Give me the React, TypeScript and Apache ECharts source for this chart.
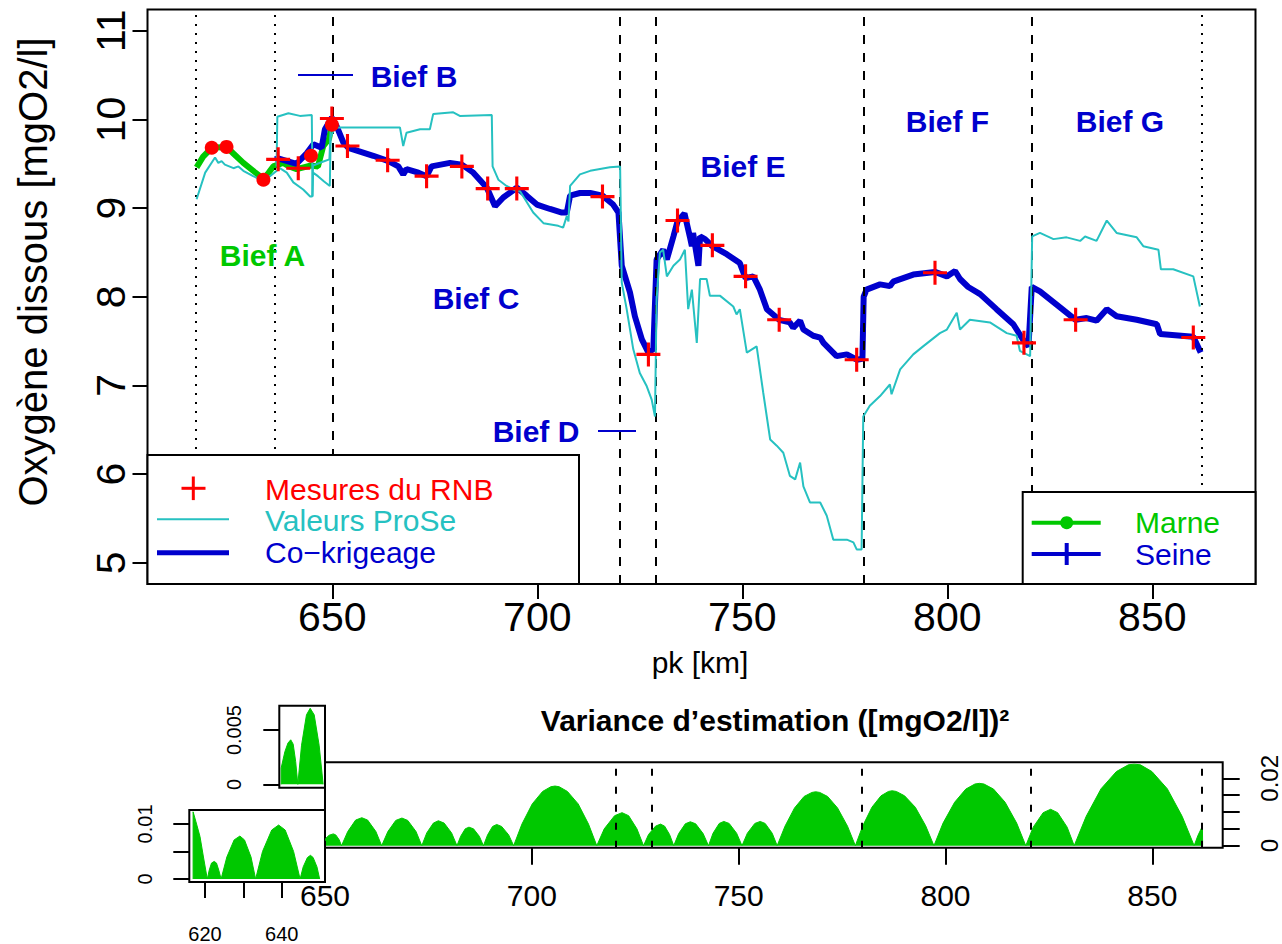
import React, { useEffect, useRef } from "react";
import * as echarts from "echarts";

// ---------- data ----------
// Reach boundaries (pk, km)
const dottedLimits = [616.8, 636.0, 862.0];
const dashedLimits = [650.0, 720.2, 729.0, 779.7, 820.7];
const varianceLimits = [650.0, 720.2, 729.0, 779.7, 820.7, 862.0];

const xTicks = [650, 700, 750, 800, 850];
const yTicks = [5, 6, 7, 8, 9, 10, 11];
const varTicks = [0, 0.005, 0.01, 0.015, 0.02];
const varLabels = [0, 0.02];

// RNB measurements on the Seine and the Marne [pk, mgO2/l]
const seineMesures: [number, number][] = [
  [636.8, 9.55], [641.7, 9.45], [649.9, 10.01], [653.7, 9.7], [663.5, 9.54], [673.0, 9.36],
  [681.6, 9.47], [687.9, 9.22], [695.0, 9.22], [715.9, 9.13], [727.1, 7.35], [734.2, 8.86],
  [742.7, 8.58], [750.8, 8.23], [759.0, 7.74], [777.9, 7.29], [797.0, 8.27], [818.7, 7.48],
  [831.3, 7.74], [860.0, 7.54],
];
const marneMesures: [number, number][] = [
  [620.6, 9.68], [624.2, 9.69], [633.2, 9.32], [644.8, 9.59], [649.9, 9.94],
];

// Co-kriging estimate, Seine
const seineKrigeage: [number, number][] = [
  [636.0, 9.55], [636.8, 9.56], [639.0, 9.53], [641.3, 9.5], [643.8, 9.62], [645.4, 9.72],
  [647.4, 9.68], [648.2, 9.89], [649.9, 10.02], [651.1, 9.92], [652.7, 9.74], [653.9, 9.68],
  [660.0, 9.59], [663.7, 9.53], [666.1, 9.47], [667.3, 9.38], [668.1, 9.44], [671.0, 9.4],
  [673.0, 9.36], [674.2, 9.47], [678.7, 9.51], [681.6, 9.49], [684.4, 9.4], [687.7, 9.23],
  [689.7, 9.02], [691.7, 9.12], [695.0, 9.23], [697.4, 9.14], [699.9, 9.04], [703.1, 8.99],
  [706.0, 8.95], [707.2, 8.95], [708.0, 9.14], [710.4, 9.17], [712.9, 9.17], [715.9, 9.14],
  [718.5, 9.04], [719.8, 8.95], [720.6, 8.35], [722.6, 8.05], [723.8, 7.78], [725.5, 7.52],
  [727.1, 7.37], [728.3, 7.41], [729.1, 8.42], [730.7, 8.53], [731.6, 8.42], [733.2, 8.68],
  [734.2, 8.85], [735.9, 8.94], [737.2, 8.68], [737.7, 8.57], [738.0, 8.72], [739.3, 8.35],
  [739.7, 8.68], [740.9, 8.65], [742.7, 8.57], [746.2, 8.48], [749.4, 8.38], [750.8, 8.21],
  [752.7, 8.23], [754.3, 8.08], [756.0, 7.86], [759.0, 7.74], [761.6, 7.71], [762.4, 7.65],
  [764.1, 7.73], [764.9, 7.63], [767.3, 7.56], [769.0, 7.54], [769.8, 7.48], [773.0, 7.33],
  [775.5, 7.35], [777.9, 7.29], [779.3, 7.3], [779.6, 8.0], [780.3, 8.08], [783.6, 8.14],
  [786.0, 8.12], [786.8, 8.17], [791.7, 8.25], [797.0, 8.28], [799.9, 8.23], [801.9, 8.29],
  [803.1, 8.2], [805.1, 8.11], [808.0, 8.03], [812.0, 7.86], [816.1, 7.69], [818.7, 7.5],
  [819.8, 7.44], [820.6, 8.11], [822.6, 8.06], [827.5, 7.88], [831.3, 7.74], [834.0, 7.76],
  [836.4, 7.73], [838.9, 7.86], [841.3, 7.78], [846.2, 7.74], [851.1, 7.69], [851.9, 7.58],
  [860.0, 7.55], [861.8, 7.37],
];

// Co-kriging estimate, Marne
const marneKrigeage: [number, number][] = [
  [616.9, 9.46], [618.5, 9.58], [620.6, 9.68], [624.2, 9.69], [626.0, 9.61], [628.3, 9.51],
  [631.0, 9.41], [633.2, 9.33], [634.5, 9.4], [635.6, 9.47], [638.0, 9.51], [639.5, 9.47],
  [641.3, 9.44], [643.0, 9.46], [644.8, 9.48], [646.5, 9.47], [647.8, 9.7], [649.2, 9.78],
  [649.9, 9.94],
];

// ProSe model output, Seine
const seineProse: [number, number][] = [
  [636.4, 9.47], [636.6, 10.03], [639.3, 10.07], [642.1, 10.04], [645.0, 10.05], [645.2, 9.13],
  [645.3, 9.4], [646.5, 9.36], [648.0, 9.3], [649.4, 9.25], [649.6, 9.8], [650.7, 9.91],
  [666.5, 9.91], [667.3, 9.7], [668.1, 9.85], [671.4, 9.89], [673.8, 9.89], [674.6, 10.06],
  [679.5, 10.08], [681.1, 10.04], [688.9, 10.05], [689.1, 9.47], [690.5, 9.32], [692.5, 9.25],
  [695.0, 9.19], [695.8, 9.19], [699.0, 8.95], [701.5, 8.83], [705.1, 8.8], [706.3, 8.78],
  [707.2, 8.91], [707.6, 8.85], [708.0, 9.25], [710.4, 9.38], [712.9, 9.42], [717.7, 9.46],
  [720.2, 9.47], [720.6, 8.16], [721.8, 7.86], [723.4, 7.41], [725.0, 7.14], [726.7, 6.99],
  [727.9, 6.84], [728.7, 6.65], [729.1, 7.97], [729.9, 8.5], [730.7, 8.53], [731.6, 8.23],
  [733.2, 8.35], [734.8, 8.42], [736.0, 8.53], [736.8, 7.86], [737.7, 8.08], [738.9, 7.48],
  [739.7, 8.2], [741.3, 8.2], [742.1, 8.01], [744.6, 8.01], [747.8, 7.89], [748.6, 7.8],
  [749.4, 7.86], [751.1, 7.37], [753.5, 7.44], [755.1, 6.92], [756.8, 6.39], [758.4, 6.32],
  [760.0, 6.24], [761.6, 5.98], [762.9, 5.94], [764.1, 6.13], [764.9, 5.86], [766.5, 5.68],
  [769.0, 5.68], [770.6, 5.53], [772.2, 5.26], [775.5, 5.26], [777.1, 5.23], [777.9, 5.15],
  [779.1, 5.15], [779.5, 6.65], [781.1, 6.77], [783.6, 6.88], [786.0, 7.01], [786.4, 6.9],
  [788.5, 7.18], [791.7, 7.35], [794.1, 7.44], [798.2, 7.59], [799.9, 7.63], [802.3, 7.82],
  [803.1, 7.63], [805.5, 7.74], [810.4, 7.71], [814.5, 7.59], [816.9, 7.56], [817.7, 7.39],
  [820.2, 7.33], [820.7, 8.68], [822.6, 8.72], [825.9, 8.65], [829.1, 8.67], [832.4, 8.63],
  [833.6, 8.68], [836.4, 8.63], [838.9, 8.86], [841.3, 8.72], [846.2, 8.67], [847.8, 8.57],
  [851.5, 8.53], [852.1, 8.31], [855.1, 8.31], [860.0, 8.23], [861.6, 7.89],
];

// ProSe model output, Marne
const marneProse: [number, number][] = [
  [616.9, 9.1], [619.0, 9.4], [621.4, 9.57], [622.2, 9.51], [623.0, 9.53], [623.8, 9.49],
  [625.9, 9.45], [627.1, 9.47], [628.3, 9.42], [630.7, 9.36], [633.2, 9.31], [634.8, 9.36],
  [637.2, 9.45], [638.9, 9.4], [640.5, 9.29], [642.9, 9.21], [644.6, 9.13], [645.1, 9.13],
  [645.3, 9.48], [647.5, 9.52], [649.3, 9.55], [649.6, 9.9], [650.0, 9.92],
];

// Estimation variance, Seine 650-862 ([mgO2/l]^2)
const seineVariance: [number, number][] = [
  [650.1, 0], [650.2, 0.0022], [651.0, 0.0031], [652.0, 0.0035], [652.6, 0.0032], [653.4, 0.0018], [654.0, 0],
  [655.5, 0.0042], [657.4, 0.0076], [658.9, 0.0083], [660.3, 0.0076], [662.3, 0.0042], [663.7, 0],
  [665.2, 0.0042], [667.1, 0.0075], [668.6, 0.0082], [670.0, 0.0075], [672.0, 0.0042], [673.4, 0],
  [674.6, 0.0038], [676.2, 0.0067], [677.4, 0.0074], [678.8, 0.0067], [680.6, 0.0038], [681.9, 0],
  [682.8, 0.0028], [683.9, 0.005], [684.8, 0.0055], [685.9, 0.005], [687.3, 0.0028], [688.3, 0],
  [689.3, 0.0032], [690.5, 0.0057], [691.5, 0.0063], [692.7, 0.0057], [694.4, 0.0032], [695.6, 0],
  [697.6, 0.0064], [700.1, 0.0124], [702.6, 0.0161], [704.6, 0.0175], [705.6, 0.0177], [706.6, 0.0175],
  [708.6, 0.0161], [711.2, 0.0124], [713.7, 0.0064], [715.7, 0],
  [717.5, 0.005], [720.0, 0.0089], [721.8, 0.0098], [723.4, 0.0089], [725.4, 0.005], [727.0, 0],
  [728.2, 0.0033], [729.9, 0.0058], [731.1, 0.0064], [732.1, 0.0058], [733.3, 0.0033], [734.3, 0],
  [735.5, 0.0036], [737.1, 0.0065], [738.3, 0.0071], [739.6, 0.0065], [741.4, 0.0036], [742.7, 0],
  [743.8, 0.0037], [745.3, 0.0066], [746.4, 0.0072], [747.7, 0.0066], [749.5, 0.0037], [750.8, 0],
  [752.1, 0.0037], [753.9, 0.0066], [755.2, 0.0072], [756.4, 0.0066], [758.1, 0.0037], [759.3, 0],
  [761.2, 0.0058], [763.5, 0.0112], [765.8, 0.0146], [767.7, 0.0158], [768.6, 0.016], [769.6, 0.0158],
  [771.5, 0.0146], [773.9, 0.0112], [776.3, 0.0058], [778.2, 0],
  [780.0, 0.0059], [782.2, 0.0114], [784.4, 0.0148], [786.2, 0.0161], [787.1, 0.0163], [788.1, 0.0161],
  [790.1, 0.0148], [792.7, 0.0114], [795.2, 0.0059], [797.2, 0],
  [799.4, 0.0067], [802.2, 0.0129], [804.9, 0.0168], [807.1, 0.0183], [808.2, 0.0185], [809.3, 0.0183],
  [811.6, 0.0168], [814.4, 0.0129], [817.2, 0.0067], [819.4, 0],
  [821.2, 0.0055], [823.6, 0.0098], [825.4, 0.0108], [827.1, 0.0098], [829.4, 0.0055], [831.1, 0],
  [834.0, 0.0087], [837.6, 0.0169], [841.3, 0.022], [844.2, 0.024], [845.6, 0.0242], [847.1, 0.024],
  [849.9, 0.022], [853.6, 0.0169], [857.2, 0.0087], [860.1, 0],
  [861.0, 0.003], [862.1, 0.0058], [862.15, 0],
];

// Estimation variance, Seine reach B (636-650)
const biefBVariance: [number, number][] = [
  [636.3, 0], [636.3, 0.0015], [637.5, 0.003], [638.5, 0.0038], [639.4, 0.0041], [640.2, 0.0037],
  [641.0, 0.0021], [641.7, 0], [642.9, 0.0036], [644.5, 0.0064], [645.7, 0.007], [647.0, 0.0064],
  [648.6, 0.0036], [649.9, 0],
];

// Estimation variance, Marne (617-650)
const marneVariance: [number, number][] = [
  [616.9, 0], [616.9, 0.0122], [617.6, 0.0105], [618.7, 0.0077], [619.6, 0.004], [620.6, 0],
  [621.1, 0.0016], [621.7, 0.0029], [622.4, 0.0032], [623.0, 0.0029], [623.6, 0.0016], [624.2, 0],
  [625.7, 0.004], [627.6, 0.0071], [629.1, 0.0078], [630.3, 0.0071], [632.0, 0.004], [633.2, 0],
  [635.0, 0.005], [637.4, 0.0089], [639.2, 0.0098], [640.9, 0.0089], [643.1, 0.005], [644.8, 0],
  [645.6, 0.0022], [646.7, 0.0039], [647.5, 0.0043], [648.2, 0.0039], [649.2, 0.0022], [649.9, 0],
];

// ---------- styling ----------
const FONT = "'Liberation Sans', Arial, Helvetica, sans-serif";
const BLUE = "#0000CD";
const GREEN = "#00C800";
const RED = "#FF0000";
const CYAN = "#26C1C1";
const PLUS =
  "path://M-1.3,-10L1.3,-10L1.3,-1.3L10,-1.3L10,1.3L1.3,1.3L1.3,10L-1.3,10L-1.3,1.3L-10,1.3L-10,-1.3L-1.3,-1.3Z";

const tickLine = { color: "#000", width: 2 };

function vLines(values: number[], pattern: number[]) {
  return {
    silent: true,
    symbol: ["none", "none"],
    label: { show: false },
    emphasis: { disabled: true },
    data: values.map((v) => ({
      xAxis: v,
      lineStyle: { color: "#000", width: 2, type: pattern, opacity: 1 },
    })),
  };
}

function label(x: number, y: number, text: string, font: string, fill: string, align = "center", rotation = 0) {
  return {
    type: "text",
    x,
    y,
    rotation,
    z: 100,
    silent: true,
    style: {
      text,
      font,
      fill,
      textAlign: align,
      textVerticalAlign: "middle",
      align,
      verticalAlign: "middle",
    },
  };
}

function seg(x1: number, y1: number, x2: number, y2: number, stroke: string, lineWidth: number) {
  return {
    type: "line",
    z: 100,
    silent: true,
    shape: { x1, y1, x2, y2 },
    style: { stroke, lineWidth },
  };
}

function valueAxis(extra: any) {
  return {
    type: "value",
    scale: false,
    splitLine: { show: false },
    axisLine: { show: false, onZero: false },
    ...extra,
  };
}

const gridBox = { show: true, borderColor: "#000", borderWidth: 2, backgroundColor: "transparent", containLabel: false };

const option: any = {
  animation: false,
  backgroundColor: "#fff",
  textStyle: { fontFamily: FONT },
  grid: [
    { ...gridBox, left: 147.5, top: 9.5, width: 1108, height: 574.5 },
    { ...gridBox, left: 325, top: 762.3, width: 897.7, height: 85.4 },
    { ...gridBox, left: 279.3, top: 705.7, width: 45.7, height: 82 },
    { ...gridBox, left: 189.3, top: 810, width: 135.7, height: 72.3 },
  ],
  xAxis: [
    valueAxis({
      gridIndex: 0, min: 604.93, max: 875.17,
      axisTick: { show: true, customValues: xTicks, length: 15, lineStyle: tickLine },
      axisLabel: { customValues: xTicks, fontSize: 41, color: "#000", margin: 12, fontFamily: FONT },
    }),
    valueAxis({
      gridIndex: 1, min: 650, max: 867,
      axisTick: { show: true, customValues: xTicks, length: 17, lineStyle: tickLine },
      axisLabel: { customValues: xTicks, fontSize: 30, color: "#000", margin: 33, fontFamily: FONT },
    }),
    valueAxis({ gridIndex: 2, min: 635.7, max: 650.5, axisTick: { show: false }, axisLabel: { show: false } }),
    valueAxis({
      gridIndex: 3, min: 615.91, max: 651.29,
      axisTick: { show: true, customValues: [620, 630, 640], length: 16, lineStyle: tickLine },
      axisLabel: { customValues: [620, 640], fontSize: 20, color: "#000", margin: 42, fontFamily: FONT },
    }),
  ],
  yAxis: [
    valueAxis({
      gridIndex: 0, min: 4.76, max: 11.24,
      axisTick: { show: true, customValues: yTicks, length: 15, lineStyle: tickLine },
      axisLabel: { customValues: yTicks, rotate: 90, fontSize: 41, color: "#000", margin: 16, fontFamily: FONT },
    }),
    valueAxis({
      gridIndex: 1, position: "right", min: -0.0006, max: 0.02475,
      axisTick: { show: true, customValues: varTicks, length: 17, lineStyle: tickLine },
      axisLabel: {
        customValues: varLabels, rotate: 90, fontSize: 24, color: "#000", margin: 35, fontFamily: FONT,
        formatter: (v: number) => String(Number(v.toFixed(4))),
      },
    }),
    valueAxis({
      gridIndex: 2, min: -0.00031, max: 0.00724,
      axisTick: { show: true, customValues: [0, 0.005], length: 16, lineStyle: tickLine },
      axisLabel: {
        customValues: [0, 0.005], rotate: 90, fontSize: 20, color: "#000", margin: 35, fontFamily: FONT,
        formatter: (v: number) => String(Number(v.toFixed(4))),
      },
    }),
    valueAxis({
      gridIndex: 3, min: -0.00054, max: 0.01253,
      axisTick: { show: true, customValues: [0, 0.005, 0.01], length: 16, lineStyle: tickLine },
      axisLabel: {
        customValues: [0, 0.01], rotate: 90, fontSize: 20, color: "#000", margin: 34, fontFamily: FONT,
        formatter: (v: number) => String(Number(v.toFixed(4))),
      },
    }),
  ],
  series: [
    // reach limits in the profile panel
    {
      type: "line", xAxisIndex: 0, yAxisIndex: 0, data: [], symbol: "none",
      markLine: {
        ...vLines(dashedLimits, [9, 9]),
        data: [
          ...vLines(dashedLimits, [9, 9]).data,
          ...vLines(dottedLimits, [2, 7]).data,
        ],
      },
    },
    {
      name: "Marne krigeage", type: "line", xAxisIndex: 0, yAxisIndex: 0, data: marneKrigeage,
      symbol: "none", lineStyle: { color: GREEN, width: 6 }, z: 3,
    },
    {
      name: "Co−krigeage", type: "line", xAxisIndex: 0, yAxisIndex: 0, data: seineKrigeage,
      symbol: "none", lineStyle: { color: BLUE, width: 6 }, z: 4,
    },
    {
      name: "Valeurs ProSe", type: "line", xAxisIndex: 0, yAxisIndex: 0, data: seineProse,
      symbol: "none", lineStyle: { color: CYAN, width: 2 }, z: 5,
    },
    {
      name: "Valeurs ProSe Marne", type: "line", xAxisIndex: 0, yAxisIndex: 0, data: marneProse,
      symbol: "none", lineStyle: { color: CYAN, width: 2 }, z: 5,
    },
    {
      name: "Mesures du RNB", type: "scatter", xAxisIndex: 0, yAxisIndex: 0, data: seineMesures,
      symbol: PLUS, symbolSize: 24, itemStyle: { color: RED, opacity: 1 }, z: 6,
    },
    {
      name: "Mesures Marne", type: "scatter", xAxisIndex: 0, yAxisIndex: 0, data: marneMesures,
      symbol: "circle", symbolSize: 14, itemStyle: { color: RED, opacity: 1 }, z: 6,
    },
    // estimation variance, Seine
    {
      type: "line", xAxisIndex: 1, yAxisIndex: 1, data: seineVariance, symbol: "none",
      lineStyle: { color: GREEN, width: 1 }, areaStyle: { color: GREEN, opacity: 1 },
      markLine: vLines(varianceLimits, [7, 11]),
    },
    {
      type: "line", xAxisIndex: 2, yAxisIndex: 2, data: biefBVariance, symbol: "none",
      lineStyle: { color: GREEN, width: 1 }, areaStyle: { color: GREEN, opacity: 1 },
    },
    {
      type: "line", xAxisIndex: 3, yAxisIndex: 3, data: marneVariance, symbol: "none",
      lineStyle: { color: GREEN, width: 1 }, areaStyle: { color: GREEN, opacity: 1 },
    },
  ],
  graphic: {
    elements: [
      // axis titles
      label(33, 272, "Oxygène dissous [mgO2/l]", `40px ${FONT}`, "#000", "center", Math.PI / 2),
      label(700, 662, "pk [km]", `30px ${FONT}`, "#000"),
      label(775, 720, "Variance d’estimation ([mgO2/l])²", `bold 30px ${FONT}`, "#000"),
      // reach names
      label(262.5, 255, "Bief A", `bold 30px ${FONT}`, GREEN),
      label(414, 76, "Bief B", `bold 30px ${FONT}`, BLUE),
      seg(298, 75, 353, 75, BLUE, 2),
      label(476, 298, "Bief C", `bold 30px ${FONT}`, BLUE),
      label(536, 431, "Bief D", `bold 30px ${FONT}`, BLUE),
      seg(598, 431, 636, 431, BLUE, 2),
      label(743, 166, "Bief E", `bold 30px ${FONT}`, BLUE),
      label(947.5, 121, "Bief F", `bold 30px ${FONT}`, BLUE),
      label(1120, 121, "Bief G", `bold 30px ${FONT}`, BLUE),
      // legend: data sources
      {
        type: "rect", z: 99, silent: true,
        shape: { x: 147.5, y: 455, width: 431.5, height: 129 },
        style: { fill: "#fff", stroke: "#000", lineWidth: 2 },
      },
      seg(181.5, 488.3, 205.5, 488.3, RED, 3),
      seg(193.3, 476.5, 193.3, 500.1, RED, 3),
      label(265, 489, "Mesures du RNB", `30px ${FONT}`, RED, "left"),
      seg(157, 519.3, 229, 519.3, CYAN, 2),
      label(265, 520, "Valeurs ProSe", `30px ${FONT}`, CYAN, "left"),
      seg(157, 552.7, 229, 552.7, BLUE, 5),
      label(265, 552, "Co−krigeage", `30px ${FONT}`, BLUE, "left"),
      // legend: rivers
      {
        type: "rect", z: 99, silent: true,
        shape: { x: 1022.7, y: 492, width: 232.8, height: 92 },
        style: { fill: "#fff", stroke: "#000", lineWidth: 2 },
      },
      seg(1031.7, 522.7, 1100.7, 522.7, GREEN, 4),
      {
        type: "circle", z: 100, silent: true,
        shape: { cx: 1066.7, cy: 522.7, r: 6.5 },
        style: { fill: GREEN },
      },
      label(1135, 522, "Marne", `30px ${FONT}`, GREEN, "left"),
      seg(1031.7, 554, 1100.7, 554, BLUE, 4),
      seg(1066.7, 543, 1066.7, 565, BLUE, 4),
      label(1135, 554, "Seine", `30px ${FONT}`, BLUE, "left"),
    ],
  },
};

export default function App() {
  const ref = useRef<HTMLDivElement>(null);
  useEffect(() => {
    if (!ref.current) return;
    const chart = echarts.init(ref.current, null, { renderer: "svg" });
    chart.setOption(option);
    return () => chart.dispose();
  }, []);
  return (
    <div
      ref={ref}
      style={{ position: "absolute", left: 0, top: 0, width: 1282, height: 944, background: "#fff" }}
    />
  );
}
